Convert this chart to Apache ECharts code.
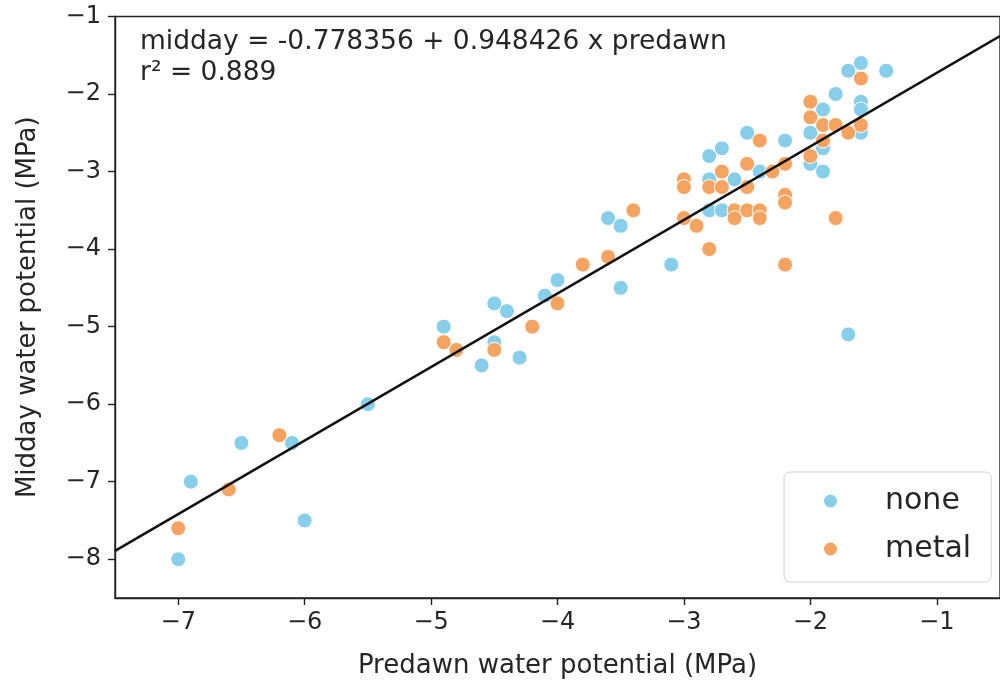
<!DOCTYPE html>
<html>
<head>
<meta charset="utf-8">
<script src="https://cdn.jsdelivr.net/npm/echarts@6/dist/echarts.min.js"></script>
<style>
html,body{margin:0;padding:0;background:#fff;}
#chart{width:1000px;height:690px;}
</style>
</head>
<body>
<div id="chart"></div>
<script>
// ---- data ----
const seriesNames = ['none', 'metal'];

const noneX = [-7.0,-6.9,-6.5,-6.1,-6.0,-5.5,-4.9,-4.6,-4.5,-4.5,-4.4,-4.3,-4.1,-4.0,-3.6,-3.5,-3.5,-3.1,-2.8,-2.8,-2.8,-2.7,-2.7,-2.6,-2.5,-2.4,-2.2,-2.0,-2.0,-1.9,-1.9,-1.9,-1.8,-1.7,-1.7,-1.6,-1.6,-1.6,-1.6,-1.4];
const noneY = [-8.0,-7.0,-6.5,-6.5,-7.5,-6.0,-5.0,-5.5,-4.7,-5.2,-4.8,-5.4,-4.6,-4.4,-3.6,-3.7,-4.5,-4.2,-2.8,-3.1,-3.5,-2.7,-3.5,-3.1,-2.5,-3.0,-2.6,-2.5,-2.9,-2.2,-2.7,-3.0,-2.0,-1.7,-5.1,-1.6,-2.1,-2.2,-2.5,-1.7];

const metalX = [-7.0,-6.6,-6.2,-4.9,-4.8,-4.5,-4.2,-4.0,-3.8,-3.6,-3.4,-3.0,-3.0,-3.0,-2.9,-2.8,-2.8,-2.7,-2.7,-2.6,-2.6,-2.5,-2.5,-2.5,-2.4,-2.4,-2.4,-2.3,-2.2,-2.2,-2.2,-2.2,-2.0,-2.0,-2.0,-1.9,-1.9,-1.8,-1.8,-1.7,-1.6,-1.6];
const metalY = [-7.6,-7.1,-6.4,-5.2,-5.3,-5.3,-5.0,-4.7,-4.2,-4.1,-3.5,-3.1,-3.2,-3.6,-3.7,-3.2,-4.0,-3.0,-3.2,-3.5,-3.6,-2.9,-3.2,-3.5,-2.6,-3.5,-3.6,-3.0,-2.9,-3.3,-3.4,-4.2,-2.1,-2.3,-2.8,-2.4,-2.6,-2.4,-3.6,-2.5,-1.8,-2.4];

// regression reported on the chart
const intercept = -0.778356;
const slope = 0.948426;
const fitX = [-7.5, -0.5];

const xTicks = [-7, -6, -5, -4, -3, -2, -1];
const yTicks = [-8, -7, -6, -5, -4, -3, -2, -1];
const xRange = [-7.5, -0.5];
const yRange = [-8.5, -1];

const xTitle = 'Predawn water potential (MPa)';
const yTitle = 'Midday water potential (MPa)';
const eqText = 'midday = -0.778356 + 0.948426 x predawn';
const r2Text = 'r\u00B2 = 0.889';

// ---- build ----
const FONT = 'DejaVu Sans';
const minus = v => String(v).replace('-', '\u2212');
const pairs = (xs, ys) => xs.map((x, i) => [x, ys[i]]);
const fitData = fitX.map(x => [x, intercept + slope * x]);

const chart = echarts.init(document.getElementById('chart'), null, {renderer: 'canvas'});

const axisCommon = {
  type: 'value',
  splitLine: {show: false},
  axisLine: {show: true, onZero: false, lineStyle: {color: '#222', width: 1.4}},
  axisTick: {show: true, length: 7, lineStyle: {color: '#222', width: 1.4}},
  nameLocation: 'middle',
  nameTextStyle: {fontFamily: FONT, fontSize: 26, color: '#262626'}
};

chart.setOption({
  animation: false,
  backgroundColor: '#fff',
  textStyle: {fontFamily: FONT},
  grid: {
    left: 115, top: 16.5, right: -8, bottom: 92,
    show: true, borderColor: '#222', borderWidth: 1.4, backgroundColor: 'transparent'
  },
  xAxis: Object.assign({}, axisCommon, {
    min: xRange[0], max: xRange[1],
    name: xTitle, nameGap: 55,
    axisTick: Object.assign({}, axisCommon.axisTick, {customValues: xTicks}),
    axisLabel: {customValues: xTicks, formatter: minus, fontFamily: FONT, fontSize: 24, color: '#262626', margin: 13}
  }),
  yAxis: Object.assign({}, axisCommon, {
    min: yRange[0], max: yRange[1],
    name: yTitle, nameGap: 74,
    axisTick: Object.assign({}, axisCommon.axisTick, {customValues: yTicks}),
    axisLabel: {customValues: yTicks, formatter: minus, fontFamily: FONT, fontSize: 24, color: '#262626', margin: 14}
  }),
  legend: {
    orient: 'vertical',
    left: 784, top: 472,
    data: seriesNames,
    icon: 'circle',
    itemWidth: 15, itemHeight: 15,
    itemGap: 16,
    padding: [13, 20, 17, 38],
    borderColor: '#d0d0d0', borderWidth: 1, borderRadius: 6,
    backgroundColor: 'rgba(255,255,255,0.85)',
    textStyle: {fontFamily: FONT, fontSize: 30, color: '#262626', lineHeight: 32, padding: [0, 0, 0, 42]}
  },
  graphic: [
    {type: 'text', left: 140, top: 29, style: {text: eqText, font: '26.5px "DejaVu Sans"', fill: '#262626'}},
    {type: 'text', left: 140, top: 60, style: {text: r2Text, font: '26.5px "DejaVu Sans"', fill: '#262626'}}
  ],
  series: [
    {
      name: seriesNames[0], type: 'scatter', data: pairs(noneX, noneY),
      symbolSize: 15, z: 2,
      itemStyle: {color: '#87CEEB', borderColor: '#fff', borderWidth: 1, opacity: 1}
    },
    {
      name: seriesNames[1], type: 'scatter', data: pairs(metalX, metalY),
      symbolSize: 15, z: 2,
      itemStyle: {color: '#F4A460', borderColor: '#fff', borderWidth: 1, opacity: 1}
    },
    {
      name: 'fit', type: 'line', data: fitData, showSymbol: false, symbol: 'none',
      silent: true, z: 5, lineStyle: {color: '#111', width: 2.5}
    }
  ]
});
</script>
</body>
</html>
